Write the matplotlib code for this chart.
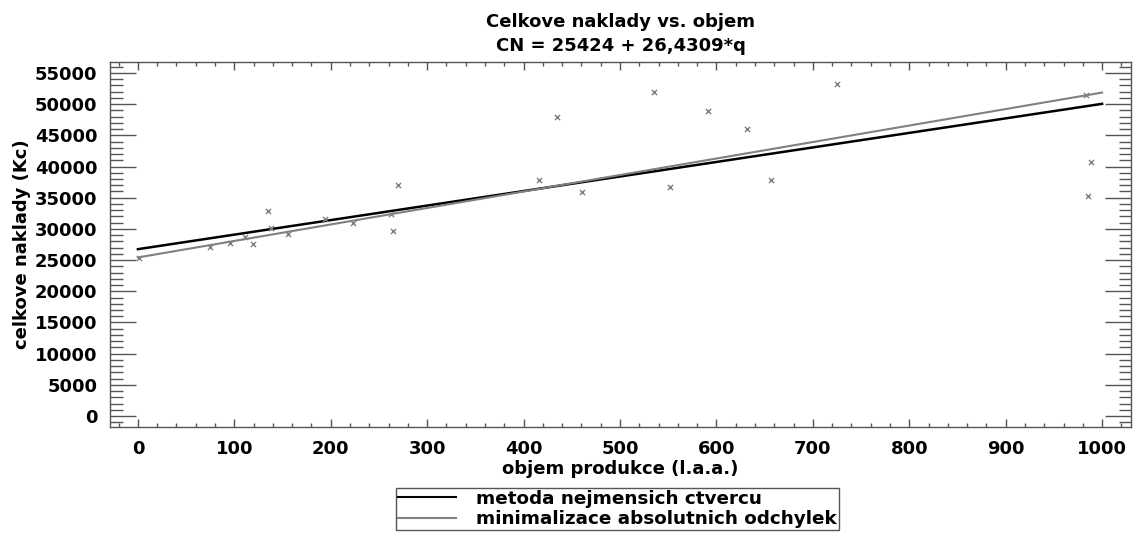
import matplotlib
matplotlib.use("Agg")
import matplotlib.pyplot as plt
import numpy as np
from matplotlib.ticker import MultipleLocator
from matplotlib.lines import Line2D

# observed data (volume, total cost)
objem = [1, 75, 95, 111, 119, 135, 138, 156, 194, 223, 263, 265, 270,
         416, 435, 461, 535, 552, 591, 632, 657, 725, 983, 985, 989]
naklady = [25340, 27100, 27740, 28700, 27580, 32870, 30150, 29190, 31590,
           30950, 32390, 29670, 37040, 37840, 47900, 35920, 51960, 36720,
           48910, 46020, 37840, 53240, 51480, 35280, 40730]

# fitted lines: least squares and least absolute deviations
ols_coef = (26750, 23.3)
lad_coef = (25424, 26.4309)
q_range = [0, 1000]

plt.rcParams['font.family'] = ['DejaVu Sans']
plt.rcParams['font.weight'] = 'bold'
FS = 13

fig = plt.figure(figsize=(11.36, 5.38), dpi=100)
ax = fig.add_axes([0.0968, 0.2063, 0.8988, 0.6785])

q = np.array(q_range)
ax.plot(q, ols_coef[0] + ols_coef[1] * q, color='black', lw=1.8)
ax.plot(q, lad_coef[0] + lad_coef[1] * q, color='#808080', lw=1.5)
ax.scatter(objem, naklady, marker='x', s=14, color='#808080', linewidths=1.0, zorder=3)

ax.set_xlim(-29, 1030)
ax.set_ylim(-1760, 56760)
ax.xaxis.set_major_locator(MultipleLocator(100))
ax.xaxis.set_minor_locator(MultipleLocator(20))
ax.yaxis.set_major_locator(MultipleLocator(5000))
ax.yaxis.set_minor_locator(MultipleLocator(1000))

ax.tick_params(axis='x', which='major', direction='in', length=6, width=1,
               color='#555555', top=True, pad=9, labelsize=FS)
ax.tick_params(axis='x', which='minor', direction='in', length=3, width=1,
               color='#555555', top=True)
ax.tick_params(axis='y', which='major', direction='in', length=19, width=1,
               color='#555555', right=True, pad=9, labelsize=FS)
ax.tick_params(axis='y', which='minor', direction='in', length=9, width=1,
               color='#555555', right=True)
for lab in ax.get_xticklabels() + ax.get_yticklabels():
    lab.set_fontweight('bold')
for s in ax.spines.values():
    s.set_color('#555555')
    s.set_linewidth(1)

ax.set_title('Celkove naklady vs. objem\nCN = 25424 + 26,4309*q',
             fontsize=FS, fontweight='bold', pad=8, linespacing=1.4)
ax.set_xlabel('objem produkce (l.a.a.)', fontsize=FS, fontweight='bold', labelpad=2)
ax.set_ylabel('celkove naklady (Kc)', fontsize=FS, fontweight='bold', labelpad=3)

handles = [Line2D([], [], color='black', lw=1.5),
           Line2D([], [], color='#808080', lw=1.5)]
leg = fig.legend(handles, ['metoda nejmensich ctvercu', 'minimalizace absolutnich odchylek'],
                 loc='upper center', bbox_to_anchor=(0.5435, 0.093), fancybox=False,
                 edgecolor='#555555', framealpha=1, borderpad=0.1, borderaxespad=0,
                 handlelength=3.2, handletextpad=1.1, labelspacing=0.12,
                 prop={'size': 13.2, 'weight': 'bold'})
leg.get_frame().set_linewidth(1)

fig.savefig('out.png', dpi=100)
